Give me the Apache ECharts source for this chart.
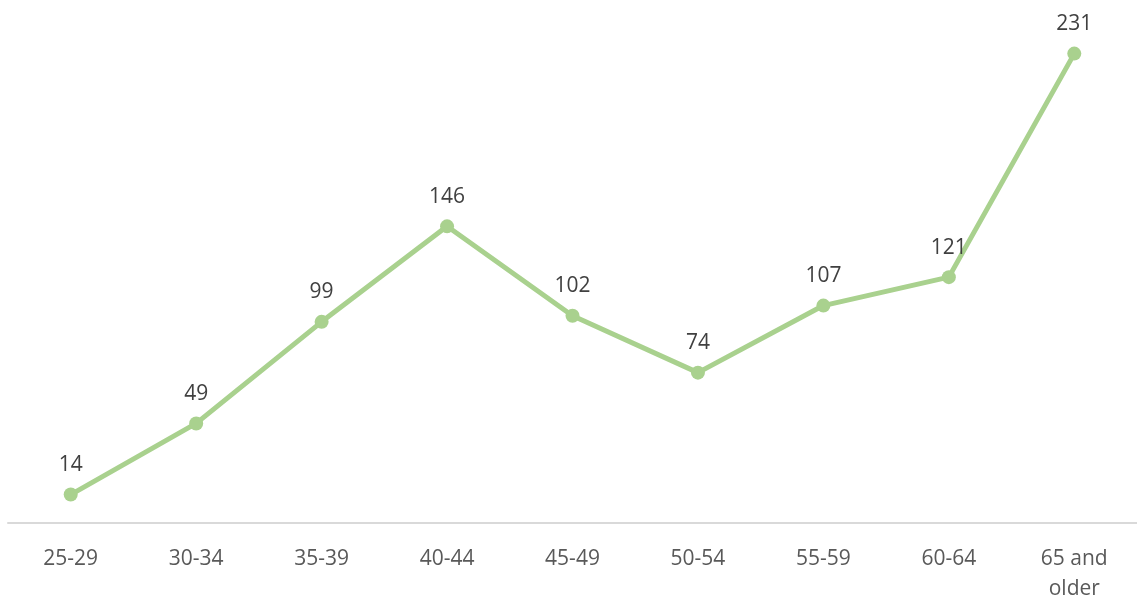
<!DOCTYPE html>
<html>
<head>
<meta charset="utf-8">
<script src="https://cdn.jsdelivr.net/npm/echarts@6/dist/echarts.min.js"></script>
<style>
  html, body { margin: 0; padding: 0; background: #fff; }
  #chart { width: 1137px; height: 604px; }
</style>
</head>
<body>
<div id="chart"></div>
<script>
const categories = ['25-29', '30-34', '35-39', '40-44', '45-49', '50-54', '55-59', '60-64', '65 and\nolder']
const values = [14, 49, 99, 146, 102, 74, 107, 121, 231]

const chart = echarts.init(document.getElementById('chart'))

chart.setOption({
  animation: false,
  grid: { left: 8, right: 0, top: 15, bottom: 68 },
  xAxis: {
    type: 'category',
    data: categories,
    axisLine: { lineStyle: { color: '#d9d9d9', width: 2 } },
    axisTick: { show: false },
    axisLabel: {
      color: '#595959',
      fontSize: 21,
      fontFamily: 'Open Sans',
      margin: 21,
      lineHeight: 30,
      interval: 0
    }
  },
  yAxis: {
    type: 'value',
    min: 0,
    max: 250,
    show: false
  },
  series: [{
    type: 'line',
    data: values,
    symbol: 'circle',
    symbolSize: 14,
    lineStyle: { color: '#a9d18e', width: 5 },
    itemStyle: { color: '#a9d18e' },
    label: {
      show: true,
      position: 'top',
      distance: 12,
      color: '#404040',
      fontSize: 21,
      fontFamily: 'Open Sans'
    }
  }]
})
</script>
</body>
</html>
